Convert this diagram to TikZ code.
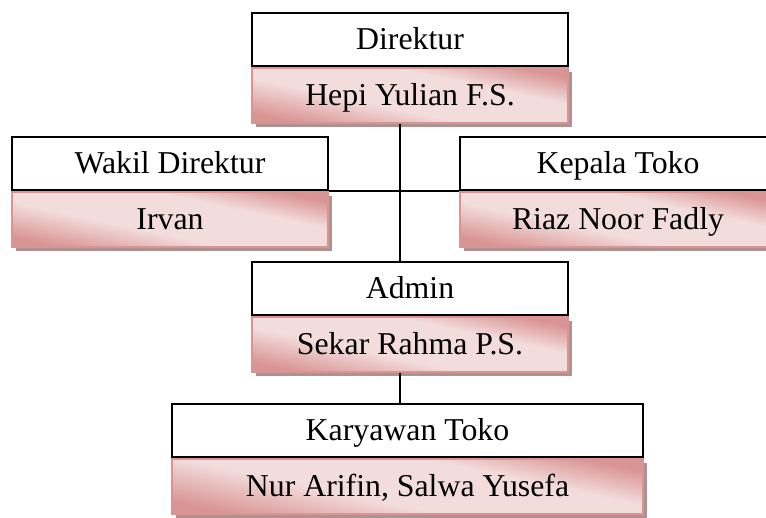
\documentclass[tikz,border=0pt]{standalone}
\usepackage{fontspec}
\setmainfont{Liberation Serif}
\usetikzlibrary{positioning,shadows}
\definecolor{pinkgelap}{HTML}{D99594}
\definecolor{pinkterang}{HTML}{F3DCDC}
\definecolor{pinkgaris}{HTML}{D99594}
\definecolor{bayangan}{HTML}{B09191}
\pgfdeclareverticalshading{pinkkotak}{100bp}{color(0bp)=(pinkgelap); color(25bp)=(pinkgelap); color(42bp)=(pinkterang); color(62bp)=(pinkterang); color(75bp)=(pinkgelap); color(100bp)=(pinkgelap)}

\begin{document}
\begin{tikzpicture}[x=0.5pt, y=-0.5pt, font=\fontsize{15.9}{19}\selectfont,
    jabatan/.style={shape=rectangle, draw=black, fill=white, line width=0.9pt, minimum height=26.5pt, minimum width=158pt, inner sep=0pt, text height=10pt, text depth=0pt},
    nama/.style={shape=rectangle, draw=pinkgaris, line width=0.9pt, shading=pinkkotak, shading angle=-12, minimum height=27.5pt, minimum width=158pt, inner sep=0pt, text height=11pt, text depth=1pt, drop shadow={shadow xshift=2pt, shadow yshift=-2pt, fill=bayangan, opacity=1}},
    garis/.style={draw=black, line width=0.9pt}]
    \useasboundingbox (0,0) rectangle (766,518);
    \clip (0,0) rectangle (766,518);
    \coordinate (tulang) at (400,0);
    % pimpinan
    \node[jabatan] (dir) at (410,39.5) {Direktur};
    \node[nama, below=0pt of dir] (dirnama) {Hepi Yulian F.S.};
    \begin{scope}
        \node[jabatan] (wakil) at (170,163.5) {Wakil Direktur};
        \node[nama, below=0pt of wakil] (wakilnama) {Irvan};
        \node[jabatan] (kepala) at (618,163.5) {Kepala Toko};
        \node[nama, below=0pt of kepala] (kepalanama) {Riaz Noor Fadly};
    \end{scope}
    % staf
    \node[jabatan] (admin) at (410,288.5) {Admin};
    \node[nama, below=0pt of admin] (adminnama) {Sekar Rahma P.S.};
    \node[jabatan, minimum width=235.5pt] (karyawan) at (407.5,430.5) {Karyawan Toko};
    \node[nama, minimum width=235.5pt, below=0pt of karyawan] (karyawannama) {Nur Arifin, Salwa Yusefa};
    \draw[garis] (dirnama.south -| tulang) -- (admin.north -| tulang);
    \draw[garis] (wakilnama.north east) -- (kepalanama.north west);
    \draw[garis] (adminnama.south -| tulang) -- (karyawan.north -| tulang);
\end{tikzpicture}
\end{document}
